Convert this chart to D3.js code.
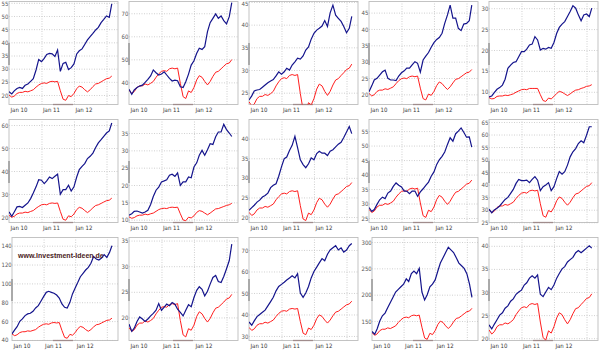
<!DOCTYPE html>
<html><head><meta charset="utf-8">
<script src="https://cdn.jsdelivr.net/npm/d3@7"></script>
<style>body{margin:0;background:#fff}svg{display:block}
text{font-family:"Liberation Sans Narrow","DejaVu Sans Condensed","Arial Narrow",sans-serif}</style>
</head><body>
<svg id="c" width="600" height="352"></svg>
<script>
const months = ["2010-01","2010-02","2010-03","2010-04","2010-05","2010-06","2010-07","2010-08","2010-09","2010-10","2010-11","2010-12",
"2011-01","2011-02","2011-03","2011-04","2011-05","2011-06","2011-07","2011-08","2011-09","2011-10","2011-11","2011-12",
"2012-01","2012-02","2012-03","2012-04","2012-05","2012-06","2012-07","2012-08","2012-09","2012-10","2012-11","2012-12",
"2013-01","2013-02","2013-03"];
const xTickLabels = ["Jan 10","Jan 11","Jan 12"];
const xLabelDates = ["2010-01","2011-01","2012-01"];
const xGridDates = ["2011-01","2012-01","2013-01"];

const blue1 = [21.3,20.4,21.6,22.5,22.9,22.5,23.7,24.2,25.2,26.2,29.5,33.5,32.7,33.9,35.4,35.8,35.6,34.6,37.1,29.0,32.0,32.4,29.7,30.4,31.8,35.6,36.8,37.5,39.2,40.9,42.2,43.4,44.7,45.7,47.5,48.7,50.0,49.5,54.6];
const red1  = [20.0,19.2,19.6,20.6,21.0,21.0,21.4,21.2,21.6,22.0,23.0,23.8,24.4,24.6,24.4,25.0,25.2,25.0,25.2,21.6,18.4,18.0,19.8,19.4,20.6,22.4,23.4,23.0,22.0,21.2,22.0,23.2,24.2,24.4,25.0,25.6,26.2,26.4,27.2];
const blue2 = [37.0,34.8,36.7,37.8,38.4,38.8,40.0,41.3,42.8,45.4,44.2,43.2,43.6,44.6,43.2,41.7,40.6,41.0,40.7,38.1,37.8,40.3,43.6,47.5,49.4,52.6,54.8,54.3,55.5,62.0,65.9,67.8,69.7,67.8,68.8,66.8,65.4,68.5,74.6];
const red2  = [36.7,35.2,36.0,37.8,38.5,38.5,39.3,38.9,39.6,40.4,42.2,43.7,44.8,45.1,44.8,45.9,46.2,45.9,46.2,39.6,33.8,33.0,36.3,35.6,37.8,41.1,42.9,42.2,40.4,38.9,40.4,42.6,44.4,44.8,45.9,47.0,48.1,48.4,49.9];
const blue3 = [23.4,24.3,25.4,25.6,25.7,26.2,26.7,27.2,27.6,27.9,28.7,29.6,29.1,29.6,30.4,30.0,31.1,31.8,32.6,32.4,33.1,34.4,35.1,36.8,38.1,38.8,39.2,39.7,40.9,39.6,42.6,44.3,42.1,41.4,40.7,39.6,38.2,39.2,41.8];
const red3  = [23.0,22.1,22.5,23.7,24.2,24.2,24.6,24.4,24.8,25.3,26.5,27.4,28.1,28.3,28.1,28.8,29.0,28.8,29.0,24.8,21.2,20.7,22.8,22.3,23.7,25.8,26.9,26.5,25.3,24.4,25.3,26.7,27.8,28.1,28.8,29.4,30.1,30.4,31.3];
const blue4 = [20.8,22.6,24.4,24.9,25.9,26.9,27.4,24.9,24.4,24.4,24.2,25.6,26.6,27.2,28.0,28.0,29.0,30.0,29.5,26.8,30.5,31.7,32.8,34.4,35.8,36.8,37.4,38.7,41.7,44.3,47.3,43.3,43.3,40.2,39.5,41.5,41.7,42.5,47.3];
const red4  = [20.3,19.5,19.9,20.9,21.3,21.3,21.7,21.5,21.9,22.3,23.3,24.2,24.8,25.0,24.8,25.4,25.6,25.4,25.6,21.9,18.7,18.3,20.1,19.7,20.9,22.7,23.8,23.3,22.3,21.5,22.3,23.5,24.6,24.8,25.4,26.0,26.6,26.8,27.6];
const blue5 = [8.8,9.0,9.8,10.6,11.0,11.6,13.0,15.6,16.4,17.0,17.2,18.4,19.6,19.6,20.2,21.2,21.4,23.2,22.4,20.0,20.4,20.2,20.6,20.4,21.8,24.0,25.4,26.2,26.8,28.0,29.2,30.6,30.0,28.4,27.0,28.4,28.6,28.0,30.0];
const red5  = [8.6,8.3,8.4,8.9,9.0,9.0,9.2,9.1,9.3,9.5,9.9,10.2,10.5,10.6,10.5,10.8,10.8,10.8,10.8,9.3,7.9,7.7,8.5,8.3,8.9,9.6,10.1,9.9,9.5,9.1,9.5,10.0,10.4,10.5,10.8,11.0,11.3,11.4,11.7];
const blue6 = [22.2,20.3,22.2,24.4,24.6,24.1,25.1,26.1,28.0,30.4,33.1,36.2,36.0,34.5,35.7,37.4,36.7,37.7,38.6,29.9,31.9,31.9,33.8,31.3,33.1,37.4,40.6,42.0,43.2,45.4,46.4,47.8,50.2,52.2,53.6,55.1,56.5,57.4,60.9];
const red6  = [20.7,19.9,20.3,21.3,21.7,21.7,22.1,21.9,22.4,22.8,23.8,24.6,25.3,25.5,25.3,25.9,26.1,25.9,26.1,22.4,19.0,18.6,20.5,20.1,21.3,23.2,24.2,23.8,22.8,21.9,22.8,24.0,25.0,25.3,25.9,26.5,27.1,27.3,28.2];
const blue7 = [11.3,11.7,12.4,12.5,12.2,11.9,12.2,12.7,14.4,16.7,18.5,19.4,20.9,21.2,21.5,22.8,23.1,22.5,23.5,19.9,20.9,20.9,22.3,22.1,25.2,26.4,28.6,30.0,28.6,30.2,31.9,31.7,33.9,35.3,35.3,37.5,36.0,35.0,34.0];
const red7  = [10.8,10.4,10.6,11.1,11.3,11.3,11.6,11.4,11.7,11.9,12.4,12.9,13.2,13.3,13.2,13.5,13.6,13.5,13.6,11.7,9.9,9.7,10.7,10.5,11.1,12.1,12.6,12.4,11.9,11.4,11.9,12.5,13.1,13.2,13.5,13.8,14.1,14.3,14.7];
const blue8 = [21.7,22.4,23.0,23.8,24.3,25.1,25.5,26.1,27.5,28.1,28.5,30.4,32.8,34.9,35.3,37.0,38.3,40.6,37.7,34.6,33.4,32.6,33.6,35.1,34.6,36.2,36.8,36.3,36.3,35.7,36.8,37.2,37.9,38.6,39.1,40.3,41.7,43.1,41.3];
const red8  = [21.2,20.4,20.8,21.8,22.3,22.3,22.7,22.5,22.9,23.3,24.4,25.2,25.9,26.1,25.9,26.5,26.7,26.5,26.7,22.9,19.5,19.1,21.0,20.6,21.8,23.7,24.8,24.4,23.3,22.5,23.3,24.6,25.7,25.9,26.5,27.1,27.8,28.0,28.8];
const blue9 = [28.6,27.3,27.9,29.7,31.3,32.2,31.7,33.6,34.3,35.9,37.1,36.3,35.7,34.3,34.3,33.4,34.3,34.3,32.5,34.0,35.1,36.3,37.4,39.4,40.9,43.5,45.1,46.3,47.8,50.4,52.7,51.5,54.1,55.0,56.1,54.6,52.9,53.0,49.5];
const red9  = [28.0,26.9,27.4,28.8,29.4,29.4,30.0,29.7,30.2,30.8,32.2,33.3,34.2,34.4,34.2,35.0,35.3,35.0,35.3,30.2,25.8,25.2,27.7,27.2,28.8,31.4,32.8,32.2,30.8,29.7,30.8,32.5,33.9,34.2,35.0,35.8,36.7,37.0,38.1];
const blue10 = [30.2,28.8,29.9,30.6,31.5,32.8,34.1,34.9,36.5,38.1,40.5,42.1,41.6,41.6,41.8,40.8,42.1,43.2,41.8,37.6,39.2,39.9,40.8,37.6,39.2,42.5,45.2,44.2,45.2,47.8,51.1,53.1,54.4,56.4,57.5,56.7,59.7,63.1,63.1];
const red10  = [30.0,28.8,29.4,30.9,31.5,31.5,32.1,31.8,32.4,33.0,34.5,35.7,36.6,36.9,36.6,37.5,37.8,37.5,37.8,32.4,27.6,27.0,29.7,29.1,30.9,33.6,35.1,34.5,33.0,31.8,33.0,34.8,36.3,36.6,37.5,38.4,39.3,39.6,40.8];
const blue11 = [46.4,50.6,54.1,59.8,62.3,65.8,67.6,68.3,70.4,73.9,76.4,81.0,85.9,90.5,91.6,90.5,89.5,87.7,84.5,78.2,74.6,73.9,79.9,88.8,95.1,101.1,107.1,110.7,114.2,117.0,121.3,128.4,125.9,124.8,126.9,130.5,127.6,132.9,140.0];
const red11  = [46.4,44.5,45.5,47.8,48.7,48.7,49.6,49.2,50.1,51.0,53.4,55.2,56.6,57.1,56.6,58.0,58.5,58.0,58.5,50.1,42.7,41.8,45.9,45.0,47.8,52.0,54.3,53.4,51.0,49.2,51.0,53.8,56.1,56.6,58.0,59.4,60.8,61.2,63.1];
const blue12 = [18.7,17.3,17.9,19.2,20.1,19.7,19.2,19.7,20.3,20.8,21.4,22.7,21.4,22.0,22.6,22.3,22.9,22.6,21.6,21.0,20.3,21.4,22.5,22.1,23.9,25.3,26.0,25.5,24.2,25.1,26.5,27.8,28.2,27.0,26.8,28.0,29.5,31.1,34.3];
const red12  = [18.0,17.3,17.6,18.5,18.9,18.9,19.3,19.1,19.4,19.8,20.7,21.4,22.0,22.1,22.0,22.5,22.7,22.5,22.7,19.4,16.6,16.2,17.8,17.5,18.5,20.2,21.1,20.7,19.8,19.1,19.8,20.9,21.8,22.0,22.5,23.0,23.6,23.8,24.5];
const blue13 = [36.5,35,37,39,40,41,42,44,46,48,51,53,54,55,56,57,58,57,59,50,48,50,53,57,60,62,64,66,65,68,70,71,72,70,71,69,70,72,73];
const red13  = [34.0,32.6,33.3,35.0,35.7,35.7,36.4,36.0,36.7,37.4,39.1,40.5,41.5,41.8,41.5,42.5,42.8,42.5,42.8,36.7,31.3,30.6,33.7,33.0,35.0,38.1,39.8,39.1,37.4,36.0,37.4,39.4,41.1,41.5,42.5,43.5,44.5,44.9,46.2];
const blue14 = [130,125,135,150,160,165,175,185,195,205,210,215,220,230,225,240,245,240,250,205,190,200,215,220,228,245,260,270,280,290,285,280,270,260,255,250,240,220,195];
const red14  = [128,122.9,125.4,131.8,134.4,134.4,137,135.7,138.2,140.8,147.2,152.3,156.2,157.4,156.2,160,161.3,160,161.3,138.2,117.8,115.2,126.7,124.2,131.8,143.4,149.8,147.2,140.8,135.7,140.8,148.5,154.9,156.2,160,163.8,167.7,169,174.1];
const blue15 = [22.9,22.0,23.0,24.0,25.0,25.5,26.5,27.0,28.0,28.5,29.5,30.0,30.4,31.5,32.0,33.0,33.5,33.0,33.7,29.5,29.0,30.0,31.0,30.5,31.5,33.0,34.0,35.0,35.5,36.5,37.0,37.5,38.5,39.0,38.5,39.0,39.5,40.0,39.5];
const red15  = [21.8,20.9,21.4,22.5,22.9,22.9,23.3,23.1,23.5,24.0,25.1,25.9,26.6,26.8,26.6,27.3,27.5,27.3,27.5,23.5,20.1,19.6,21.6,21.1,22.5,24.4,25.5,25.1,24.0,23.1,24.0,25.3,26.4,26.6,27.3,27.9,28.6,28.8,29.6];

const ticks1 = [20,25,30,35,40,45,50,55];
const ticks2 = [40,50,60,70];
const ticks3 = [25,30,35,40,45];
const ticks4 = [20,25,30,35,40,45];
const ticks5 = [10,15,20,25,30];
const ticks6 = [20,30,40,50,60];
const ticks7 = [10,15,20,25,30,35];
const ticks8 = [20,25,30,35,40];
const ticks9 = [25,30,35,40,45,50,55];
const ticks10 = [25,30,35,40,45,50,55,60,65];
const ticks11 = [40,60,80,100,120,140];
const ticks12 = [20,25,30,35];
const ticks13 = [30,40,50,60,70];
const ticks14 = [150,200,250,300];
const ticks15 = [20,25,30,35,40];

const range1 = [16.4,55.5], range2 = [30.4,75.1], range3 = [22.4,45.1], range4 = [16.9,48.4], range5 = [6.96,31.6];
const range6 = [17.6,62.4], range7 = [9.18,38.9], range8 = [18.6,44.9], range9 = [23.45,59.0], range10 = [24.9,66.0];
const range11 = [39.4,148.7], range12 = [15.5,35.6], range13 = [27.9,75.8], range14 = [113,308.6], range15 = [19.5,41.8];

const watermark = "www.Investment-Ideen.de";

const panels = [
  [blue1,red1,ticks1,range1],[blue2,red2,ticks2,range2],[blue3,red3,ticks3,range3],[blue4,red4,ticks4,range4],[blue5,red5,ticks5,range5],
  [blue6,red6,ticks6,range6],[blue7,red7,ticks7,range7],[blue8,red8,ticks8,range8],[blue9,red9,ticks9,range9],[blue10,red10,ticks10,range10],
  [blue11,red11,ticks11,range11],[blue12,red12,ticks12,range12],[blue13,red13,ticks13,range13],[blue14,red14,ticks14,range14],[blue15,red15,ticks15,range15]
].map(([blue,red,ticks,range]) => ({blue,red,ticks,range}));

const parse = d3.timeParse("%Y-%m");
const dates = months.map(parse);
const svg = d3.select("#c");
const PW = 120, PH = 118;

panels.forEach((p, i) => {
  const r = Math.floor(i / 5), c = i % 5;
  const g = svg.append("g").attr("transform", `translate(${c*PW},${r*PH})`);
  const wide = d3.max(p.ticks) >= 100;
  const left = wide ? 12 : 9, right = 118, top = 1.5, bottom = 104.5;
  const x = d3.scaleTime().domain([new Date(2010,0,1), new Date(2013,4,10)]).range([left, right]);
  const y = d3.scaleLinear().domain(p.range).range([bottom, top]);

  const cid = "clip" + i;
  g.append("clipPath").attr("id", cid).append("rect").attr("x", left).attr("y", top).attr("width", right-left).attr("height", bottom-top);

  const ya = g.append("g").attr("transform", `translate(${left},0)`)
    .call(d3.axisLeft(y).tickValues(p.ticks).tickSize(-(right-left)).tickFormat(d3.format("d")));
  ya.select(".domain").remove();
  ya.selectAll("line").attr("stroke", "#c4c4c4").attr("stroke-dasharray", "1,1.5").attr("stroke-width", 0.8);
  ya.selectAll("text").attr("x", -left + 1.5).attr("text-anchor", "start").attr("dy", "0.34em")
    .attr("y", d => Math.max(0, 3.3 - y(d)))
    .attr("font-size", 6).attr("fill", "#555");

  const xg = g.append("g").attr("transform", `translate(0,${bottom})`)
    .call(d3.axisBottom(x).tickValues(xGridDates.map(parse)).tickSize(-(bottom-top)).tickFormat(""));
  xg.select(".domain").remove();
  xg.selectAll("line").attr("stroke", "#c4c4c4").attr("stroke-dasharray", "1,1.5").attr("stroke-width", 0.8);

  const xl = g.append("g").attr("transform", `translate(0,${bottom})`)
    .call(d3.axisBottom(x).tickValues(xLabelDates.map(parse)).tickSize(0).tickFormat((d, k) => xTickLabels[k]));
  xl.select(".domain").remove();
  xl.selectAll("text").attr("text-anchor", "start").attr("x", 1).attr("y", 3.5).attr("dy", "0.71em")
    .attr("font-size", 6).attr("fill", "#333");

  g.append("rect").attr("x", left).attr("y", top).attr("width", right-left).attr("height", bottom-top)
    .attr("fill", "none").attr("stroke", "#bdbdbd").attr("stroke-width", 0.9);
  g.append("line").attr("x1", left).attr("x2", left).attr("y1", 43).attr("y2", 65)
    .attr("stroke", "#8c8c8c").attr("stroke-width", 1.3);
  g.append("line").attr("x1", 53).attr("x2", 73).attr("y1", bottom).attr("y2", bottom)
    .attr("stroke", "#a08c8c").attr("stroke-width", 1.3);

  const line = d3.line().x((d, k) => x(dates[k])).y(d => y(d));
  const lg = g.append("g").attr("clip-path", `url(#${cid})`);
  lg.append("path").datum(p.red).attr("d", line).attr("fill", "none").attr("stroke", "#ff1e1e").attr("stroke-width", 1);
  lg.append("path").datum(p.blue).attr("d", line).attr("fill", "none").attr("stroke", "#14148c").attr("stroke-width", 1.2);

  if (i === 10) {
    g.append("text").attr("x", 18).attr("y", 22).text(watermark)
      .style("font-family", "'Liberation Sans',Arial,sans-serif").attr("font-weight", "bold")
      .attr("font-size", 7).attr("fill", "#4a1c1c");
  }
});
</script>
</body></html>
